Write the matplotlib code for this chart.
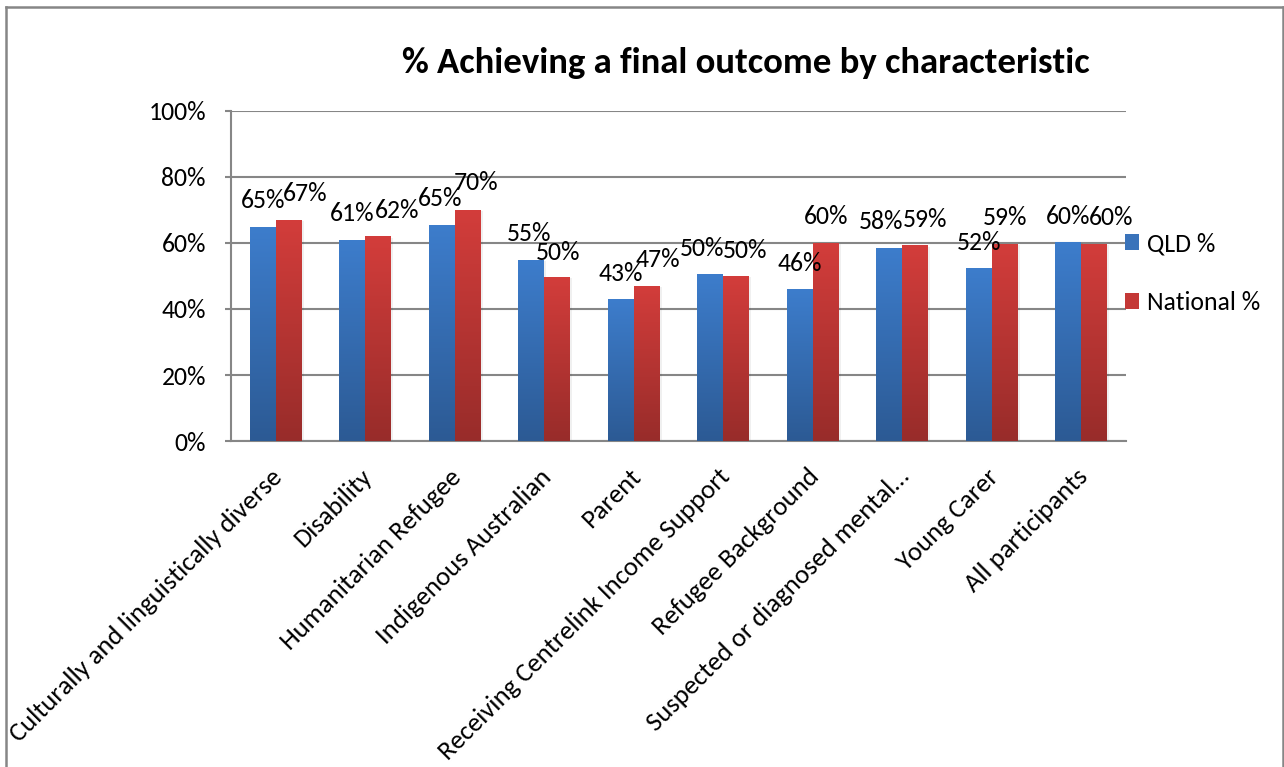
import numpy as np
import matplotlib
matplotlib.use("Agg")
import matplotlib.pyplot as plt
from matplotlib import font_manager
from matplotlib.colors import LinearSegmentedColormap
from matplotlib.patches import Patch, Rectangle
from matplotlib.lines import Line2D

# ---------------- data ----------------
categories = [
    "Culturally and linguistically diverse",
    "Disability",
    "Humanitarian Refugee",
    "Indigenous Australian",
    "Parent",
    "Receiving Centrelink Income Support",
    "Refugee Background",
    "Suspected or diagnosed mental\u2026",
    "Young Carer",
    "All participants",
]
qld_values = [65, 61, 65.5, 55, 43, 50.5, 46, 58.5, 52.4, 60.3]
national_values = [67, 62, 70, 49.7, 47, 50, 60, 59.3, 59.7, 59.7]
qld_labels = ["65%", "61%", "65%", "55%", "43%", "50%", "46%", "58%", "52%", "60%"]
national_labels = ["67%", "62%", "70%", "50%", "47%", "50%", "60%", "59%", "59%", "60%"]
series_names = ["QLD %", "National %"]
y_ticks = [0, 20, 40, 60, 80, 100]
y_tick_labels = ["0%", "20%", "40%", "60%", "80%", "100%"]
title = "% Achieving a final outcome by characteristic"

# ---------------- style ----------------
avail = {f.name for f in font_manager.fontManager.ttflist}
family = [f for f in ["Carlito", "Lato", "DejaVu Sans"] if f in avail]
plt.rcParams["font.family"] = family
FS = 18.5
FS_X = 19.2

W, H = 1284, 767
fig = plt.figure(figsize=(W / 100, H / 100), dpi=100)
fig.patch.set_facecolor("white")

def px_x(x):
    return x / W

def px_y(y):
    return 1 - y / H

ax_left, ax_right, ax_top, ax_bottom = 231, 1126, 111, 441
ax = fig.add_axes([px_x(ax_left), px_y(ax_bottom), (ax_right - ax_left) / W, (ax_bottom - ax_top) / H])

blue_cmap = LinearSegmentedColormap.from_list("b", ["#2C5A94", "#3D7DCC"])
red_cmap = LinearSegmentedColormap.from_list("r", ["#982C2A", "#D33D3B"])

x = np.arange(len(categories))
bw = 0.29
bars_q = ax.bar(x - bw / 2, qld_values, bw, color="#3A73BA", zorder=3, linewidth=0)
bars_n = ax.bar(x + bw / 2, national_values, bw, color="#C43836", zorder=3, linewidth=0)

grad = np.linspace(0, 1, 256).reshape(-1, 1)
for bars, cmap in ((bars_q, blue_cmap), (bars_n, red_cmap)):
    for b in bars:
        bx, by = b.get_x(), b.get_y()
        w, h = b.get_width(), b.get_height()
        ax.add_patch(Rectangle((bx + 0.012, by), w + 0.01, h - 0.4, facecolor="#000000",
                               alpha=0.06, zorder=2, linewidth=0))
        im = ax.imshow(grad, cmap=cmap, aspect="auto", origin="lower",
                       extent=(bx, bx + w, by, by + h), zorder=4)
        im.set_clip_path(b)

ax.set_xlim(-0.5, len(categories) - 0.5)
ax.set_ylim(0, 100)
ax.set_yticks(y_ticks)
ax.set_yticklabels(y_tick_labels, fontsize=FS)
ax.yaxis.grid(True, color="#868686", linewidth=1.5, zorder=0)
ax.set_axisbelow(True)
ax.tick_params(axis="y", length=4, width=1.5, color="#868686", pad=14)
ax.tick_params(axis="x", length=0)
ax.set_xticks(x)
ax.set_xticklabels([])
for s in ("top", "right"):
    ax.spines[s].set_visible(False)
for s in ("left", "bottom"):
    ax.spines[s].set_color("#868686")
    ax.spines[s].set_linewidth(1.5)

# category labels rotated 45 deg
for i, c in enumerate(categories):
    ax.annotate(c, xy=(i, 0), xycoords="data", xytext=(2, -23), textcoords="offset points",
                rotation=45, rotation_mode="anchor", ha="right", va="center", fontsize=FS_X)

# data labels (pixel nudges keep the crowded labels readable)
q_dx = [0, 0, -2, -2, 0, -8, 0, -8, 0, 0]
n_dx = [16, 19, 8, 1, 11, 9, 0, 10, 0, 17]
n_dy = [26, 26, 28, 24, 26, 26, 26, 26, 26, 26]
for i in range(len(categories)):
    ax.annotate(qld_labels[i], xy=(x[i] - bw / 2, qld_values[i]), xytext=(q_dx[i] * 0.72, 26 * 0.72),
                textcoords="offset points", ha="center", va="center", fontsize=FS, zorder=6)
    ax.annotate(national_labels[i], xy=(x[i] + bw / 2, national_values[i]),
                xytext=(n_dx[i] * 0.72, n_dy[i] * 0.72),
                textcoords="offset points", ha="center", va="center", fontsize=FS, zorder=6)

# legend
handles = [Patch(facecolor="#3A73BA", edgecolor="none"), Patch(facecolor="#C43836", edgecolor="none")]
leg = ax.legend(handles, series_names, loc="center left", bbox_to_anchor=(0.999, (441 - 273) / 330),
                frameon=False, fontsize=FS, handlelength=0.55, handleheight=0.6,
                handletextpad=0.3, labelspacing=1.38, borderpad=0, borderaxespad=0)

# title
fig.text(px_x(746), px_y(63), title, ha="center", va="center", fontsize=26.5, fontweight="bold")

# outer chart border
for (x0, y0, x1, y1) in [(6, 7, 6, H + 5), (6, 7, 1283, 7), (1283, 7, 1283, H + 5)]:
    fig.add_artist(Line2D([px_x(x0), px_x(x1)], [px_y(y0), px_y(y1)], color="#868686", linewidth=1.8,
                          transform=fig.transFigure))

fig.savefig("out.png", dpi=100)
